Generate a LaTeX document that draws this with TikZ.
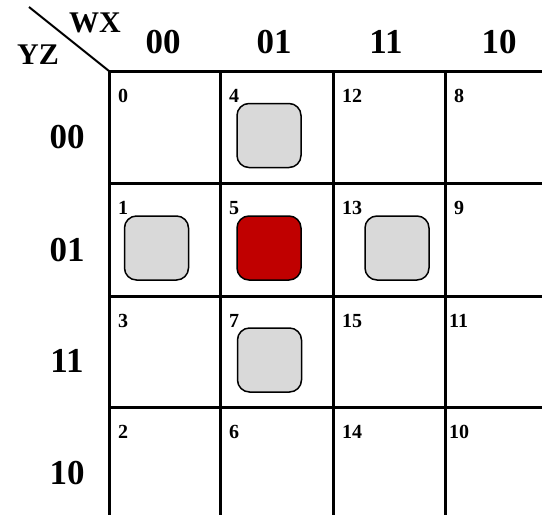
\documentclass[tikz,border=0pt]{standalone}
\usepackage{fontspec}
\setmainfont{Liberation Serif}
\definecolor{boxgray}{RGB}{217,217,217}
\definecolor{boxred}{RGB}{192,0,0}
\begin{document}
\begin{tikzpicture}[x=1pt,y=-1pt,
  gridline/.style={line width=3pt,line cap=rect},
  hdr/.style={font=\fontsize{35}{35}\selectfont\bfseries,inner sep=0pt,anchor=center},
  axis/.style={font=\fontsize{30}{30}\selectfont\bfseries,inner sep=0pt,anchor=center},
  cellnum/.style={font=\fontsize{20}{20}\selectfont\bfseries,inner sep=0pt,anchor=base west},
  kbox/.style={draw=black,line width=1.5pt,rounded corners=12pt,minimum width=64pt,minimum height=64pt,inner sep=0pt},
  grayfill/.style={fill=boxgray},
  redfill/.style={fill=boxred}]
\useasboundingbox (0,0) rectangle (542,515);
\fill[white] (0,0) rectangle (542,515);
% grid corner coordinates
\coordinate (tl) at (109,71);
\coordinate (diag) at (29,7);
\coordinate (r1) at (542,71);
\coordinate (r2) at (542,183);
\coordinate (r3) at (542,296);
\coordinate (r4) at (542,407);
\coordinate (l2) at (109,183);
\coordinate (l3) at (109,296);
\coordinate (l4) at (109,407);
\coordinate (c2) at (220,71);
\coordinate (c3) at (333,71);
\coordinate (c4) at (445,71);
\coordinate (b1) at (109,515);
\coordinate (b2) at (220,515);
\coordinate (b3) at (333,515);
\coordinate (b4) at (445,515);
\draw[line width=2pt] (diag) -- (tl);
\draw[gridline] (tl) -- (r1);
\draw[gridline] (l2) -- (r2);
\draw[gridline] (l3) -- (r3);
\draw[gridline] (l4) -- (r4);
\draw[gridline] (tl) -- (b1);
\draw[gridline] (c2) -- (b2);
\draw[gridline] (c3) -- (b3);
\draw[gridline] (c4) -- (b4);
% axis labels
\node[axis] (wx) at (95,23) {WX};
\node[axis] (yz) at (38,55) {YZ};
% column headers
\node[hdr] (h00) at (163,42) {00};
\node[hdr] (h01) at (274,42) {01};
\node[hdr] (h11) at (386,42) {11};
\node[hdr] (h10) at (499,42) {10};
% row headers
\node[hdr] (v00) at (67,137) {00};
\node[hdr] (v01) at (67,250) {01};
\node[hdr] (v11) at (67,361) {11};
\node[hdr] (v10) at (67,473) {10};
% cell numbers
\node[cellnum] (n0) at (118,102) {0};
\node[cellnum] (n4) at (229,102) {4};
\node[cellnum] (n12) at (342,102) {12};
\node[cellnum] (n8) at (454,102) {8};
\node[cellnum] (n1) at (118,214) {1};
\node[cellnum] (n5) at (229,214) {5};
\node[cellnum] (n13) at (342,214) {13};
\node[cellnum] (n9) at (454,214) {9};
\node[cellnum] (n3) at (118,327) {3};
\node[cellnum] (n7) at (229,327) {7};
\node[cellnum] (n15) at (342,327) {15};
\node[cellnum] (n11) at (449,327) {11};
\node[cellnum] (n2) at (118,438) {2};
\node[cellnum] (n6) at (229,438) {6};
\node[cellnum] (n14) at (342,438) {14};
\node[cellnum] (n10) at (449,438) {10};
% marks
\node[kbox,grayfill] (m4) at (269,135.5) {};
\node[kbox,grayfill] (m1) at (156.5,248) {};
\node[kbox,redfill] (m5) at (269,248) {};
\node[kbox,grayfill] (m13) at (397,248) {};
\node[kbox,grayfill] (m7) at (269.5,360) {};
\end{tikzpicture}
\end{document}
